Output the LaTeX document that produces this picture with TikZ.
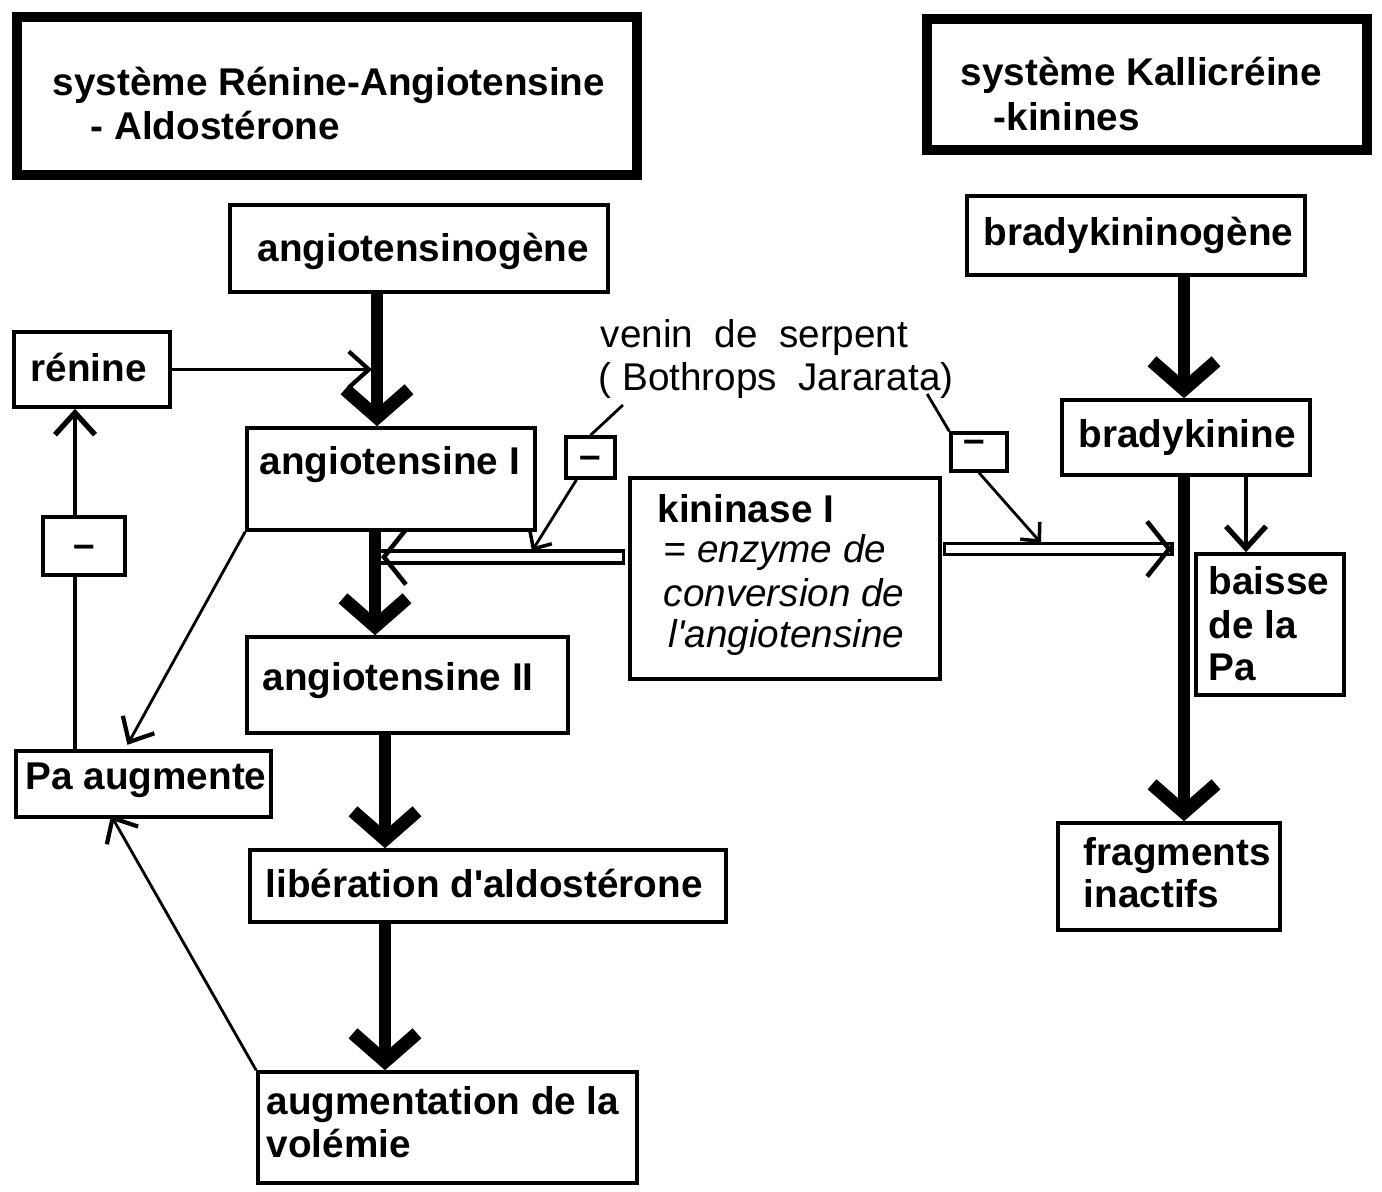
\documentclass[tikz,border=0pt]{standalone}
\usepackage{fontspec}
\setmainfont{Liberation Sans}
\usetikzlibrary{arrows.meta,calc}
\begin{document}
\begin{tikzpicture}[x=0.01cm,y=-0.01cm,
 box/.style={draw,line width=1pt,inner sep=0pt},
 tbox/.style={draw,line width=3pt,inner sep=0pt},
 txt/.style={anchor=base west,inner sep=0pt,font=\fontsize{11}{13}\selectfont\bfseries},
 itxt/.style={anchor=base west,inner sep=0pt,font=\fontsize{11}{13}\selectfont\itshape},
 rtxt/.style={anchor=base west,inner sep=0pt,font=\fontsize{11}{13}\selectfont},
 mtxt/.style={inner sep=0pt,font=\fontsize{11}{13}\selectfont\bfseries},
 flow/.style={line width=3.4pt,-{Straight Barb[length=0.28cm,width=0.64cm,line width=3.8pt]}},
 marr/.style={line width=1.2pt,-{Straight Barb[length=0.22cm,width=0.4cm,line width=1.5pt]}},
 tarr/.style={line width=0.8pt,-{Straight Barb[length=0.2cm,width=0.36cm,line width=1.2pt]}},
 sarr/.style={line width=0.8pt,-{Straight Barb[length=0.14cm,width=0.26cm,line width=1pt]}},
 barr/.style={line width=0.8pt,-{Straight Barb[length=0.22cm,width=0.55cm,line width=1.3pt]}},
 pline/.style={line width=0.8pt},
 mline/.style={line width=1.1pt},
 barline/.style={line width=0.9pt}
]
\useasboundingbox (0,0) rectangle (1382,1192);
\fill[white] (0,0) rectangle (1382,1192);

% boxes
\node[tbox,minimum width=6.2cm,minimum height=1.58cm] (T1) at (327,96) {};
\node[tbox,minimum width=4.4cm,minimum height=1.31cm] (T2) at (1147,84.5) {};
\node[box,minimum width=3.78cm,minimum height=0.87cm] (ago) at (419,248.5) {};
\node[box,minimum width=1.56cm,minimum height=0.75cm] (ren) at (92,369.5) {};
\node[box,minimum width=2.88cm,minimum height=1.02cm] (a1) at (391,479) {};
\node[box,minimum width=0.49cm,minimum height=0.41cm] (m1) at (590.5,457.5) {};
\node[box,minimum width=3.21cm,minimum height=0.96cm] (a2) at (407.5,685) {};
\node[box,minimum width=0.82cm,minimum height=0.58cm] (m0) at (84,546) {};
\node[box,minimum width=2.55cm,minimum height=0.66cm] (pa) at (143.5,784) {};
\node[box,minimum width=4.76cm,minimum height=0.72cm] (lib) at (488,886) {};
\node[box,minimum width=3.79cm,minimum height=1.11cm] (vol) at (447.5,1127.5) {};
\node[box,minimum width=3.10cm,minimum height=2.01cm] (kin) at (785,578.5) {};
\node[box,minimum width=0.56cm,minimum height=0.38cm] (m2) at (979,452) {};
\node[box,minimum width=3.38cm,minimum height=0.79cm] (bkg) at (1136,235.5) {};
\node[box,minimum width=2.48cm,minimum height=0.75cm] (bk) at (1186,437.5) {};
\node[box,minimum width=1.48cm,minimum height=1.41cm] (bai) at (1270,624.5) {};
\node[box,minimum width=2.22cm,minimum height=1.07cm] (frag) at (1169,876.5) {};

% texts
\node[txt] (t1a) at (52,96) {système Rénine-Angiotensine};
\node[txt] (t1b) at (90,140) {- Aldostérone};
\node[txt] (t2a) at (960,86) {système Kallicréine};
\node[txt] (t2b) at (993,131) {-kinines};
\node[txt] (tago) at (257,262) {angiotensinogène};
\node[txt] (tren) at (30,382) {rénine};
\node[txt] (ta1) at (259,475) {angiotensine I};
\node[txt] (ta2) at (262,691) {angiotensine II};
\node[txt] (tpa) at (25,790) {Pa augmente};
\node[txt] (tlib) at (265,897) {libération d\textquotesingle aldostérone};
\node[txt] (tvol1) at (266,1114) {augmentation de la};
\node[txt] (tvol2) at (266,1157) {volémie};
\node[txt] (tkin1) at (657,523) {kininase I};
\node[itxt] (tkin2) at (663,563) {= enzyme de};
\node[itxt] (tkin3) at (663,607) {conversion de};
\node[itxt] (tkin4) at (668,648) {l\textquotesingle angiotensine};
\node[rtxt] (ven1) at (600,348) {venin\ \ de\ \ serpent};
\node[rtxt] (ven2) at (598,391) {( Bothrops\ \ Jararata)};
\node[txt] (tbkg) at (983,246) {bradykininogène};
\node[txt] (tbk) at (1078,448) {bradykinine};
\node[txt] (tbai1) at (1208,595) {baisse};
\node[txt] (tbai2) at (1208,639) {de la};
\node[txt] (tbai3) at (1208,681) {Pa};
\node[txt] (tfrag1) at (1083,866) {fragments};
\node[txt] (tfrag2) at (1083,908) {inactifs};
\node[mtxt] (tm0) at ($(m0.center)+(0,5)$) {\textendash};
\node[mtxt] (tm1) at ($(m1.center)+(0,5)$) {\textendash};
\node[mtxt] (tm2) at ($(m2.center)+(-5,-6)$) {\textendash};

% column coordinates
\coordinate (cA) at (377,0);
\coordinate (cB) at (375,0);
\coordinate (cC) at (385,0);
\coordinate (cD) at (1184,0);
\coordinate (cE) at (1246,0);
\coordinate (cL) at (75,0);
\coordinate (cP) at (125,0);
\coordinate (cQ) at (113,0);
\coordinate (bL) at (381,557);
\coordinate (bR) at (1172,549);
\coordinate (bA) at (532,551);
\coordinate (bB) at (1041,543);

% hollow bars (drawn first)
\draw[barline,fill=white] ($(kin.west |- bL)+(-5,-6)$) rectangle ($(cB |- bL)+(0,6)$);
\draw[barline,fill=white] ($(kin.east |- bR)+(3,-5.5)$) rectangle ($(bR)+(0,5.5)$);

% main thick flows
\draw[flow] (ago.south -| cA) -- (a1.north -| cA);
\draw[flow] (a1.south -| cB) -- (a2.north -| cB);
\draw[flow] (a2.south -| cC) -- (lib.north -| cC);
\draw[flow] (lib.south -| cC) -- (vol.north -| cC);
\draw[flow] (bkg.south -| cD) -- (bk.north -| cD);
\draw[flow] (bk.south -| cD) -- (frag.north -| cD);
\draw[marr] (bk.south -| cE) -- (bai.north -| cE);

% bar arrowheads
\draw[barr] ($(bL)+(1,0)$) -- (bL);
\draw[barr] ($(bR)+(-1,0)$) -- (bR);

% thin connectors
\draw[tarr,shorten >=0.05cm] (ren.east) -- (ren.east -| cA);
\draw[mline] (pa.north -| cL) -- (m0.south -| cL);
\draw[marr] (m0.north -| cL) -- (ren.south -| cL);
\draw[tarr,shorten >=0.05cm] (a1.south west) -- (pa.north -| cP);
\draw[tarr,shorten >=-0.04cm] (vol.north west) -- (pa.south -| cQ);

% venin inhibitions
\draw[pline] ($(ven2.base west)+(25,14)$) -- (m1.north);
\draw[sarr] ($(m1.south)+(-14,0)$) -- (bA);
\draw[pline] ($(ven2.base east)+(-27,3)$) -- (m2.north west);
\draw[sarr] (m2.south) -- (bB);
\end{tikzpicture}
\end{document}
